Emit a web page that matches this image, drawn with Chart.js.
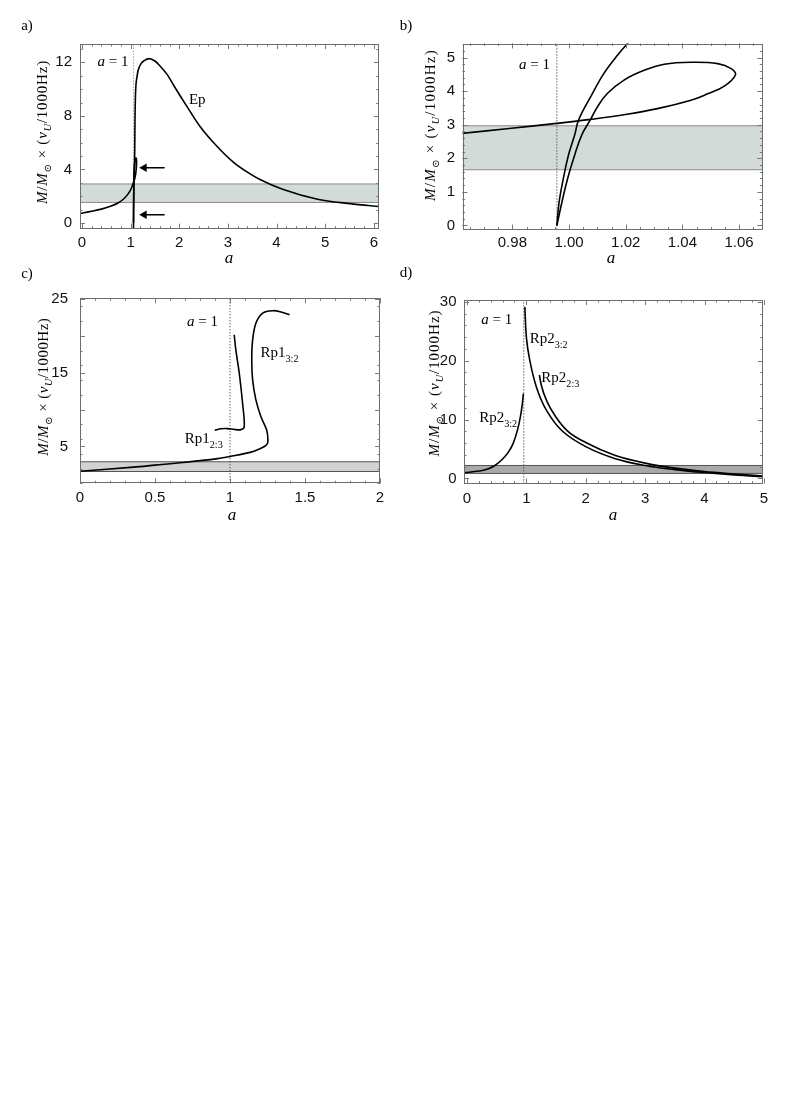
<!DOCTYPE html>
<html><head><meta charset="utf-8">
<script src="https://cdn.jsdelivr.net/npm/chart.js@4.4.1/dist/chart.umd.min.js"></script>
<style>
html,body{margin:0;padding:0;background:#fff;}
#page{position:relative;width:789px;height:1115px;background:#fff;overflow:hidden;}
.panel{position:absolute;}
.panel canvas{display:block;}
</style></head><body><div id="page">
<div class="panel" id="pa" style="left:0px;top:0px;width:395px;height:275px"><canvas id="ca"></canvas></div>
<div class="panel" id="pb" style="left:392px;top:0px;width:397px;height:275px"><canvas id="cb"></canvas></div>
<div class="panel" id="pc" style="left:0px;top:262px;width:395px;height:270px"><canvas id="cc"></canvas></div>
<div class="panel" id="pd" style="left:392px;top:262px;width:397px;height:270px"><canvas id="cd"></canvas></div>
</div>
<script>
// ---------------- DATA ----------------
// Panel a: Ep curve (left branch, small loop, upper branch), band, arrows
const aXTicks = [0, 1, 2, 3, 4, 5, 6];
const aYTicks = [0, 4, 8, 12];
const aEpLeftX = [-0.04, 0.2, 0.4, 0.6, 0.75, 0.85, 0.95, 1.02, 1.05, 1.06];
const aEpLeftY = [0.72, 0.88, 1.04, 1.27, 1.52, 1.78, 2.18, 2.62, 2.95, 3.04];
const aEpLoopX = [1.06, 1.083, 1.107, 1.123, 1.112, 1.086, 1.073, 1.066, 1.061, 1.06];
const aEpLoopY = [3.04, 3.29, 3.73, 4.48, 4.86, 4.57, 3.83, 2.74, 1.2, -0.5];
const aEpUpX = [1.06, 1.062, 1.066, 1.075, 1.085, 1.09, 1.1, 1.13, 1.19, 1.29, 1.38, 1.5, 1.6, 1.75, 1.9, 2.15, 2.42, 2.77, 3.11, 3.4, 3.66, 4.14, 4.82, 5.51, 6.15];
const aEpUpY = [0, 1.0, 2.45, 3.83, 5.4, 7.5, 9.5, 10.9, 11.75, 12.15, 12.28, 12.1, 11.75, 11.1, 10.2, 8.75, 7.25, 5.75, 4.55, 3.8, 3.25, 2.5, 1.8, 1.45, 1.22];
const aBand = [1.54, 2.92];
const aUnitLine = 1.06;
const aArrowY = [4.13, 0.62];
const aArrowX = [1.70, 1.28];

// Panel b: zoom near a = 1
const bXTicks = [0.98, 1.00, 1.02, 1.04, 1.06];
const bYTicks = [0, 1, 2, 3, 4, 5];
const bAX = [0.962, 0.978, 0.9956, 1.0076, 1.0194, 1.0312, 1.043, 1.0489, 1.0548, 1.0587, 1.0572, 1.0525, 1.043, 1.0336, 1.0265, 1.0194, 1.0135, 1.01, 1.0076, 1.0045, 1.002, 0.9995, 0.9975, 0.9957];
const bAY = [2.74, 2.88, 3.04, 3.16, 3.3, 3.48, 3.73, 3.92, 4.15, 4.48, 4.67, 4.82, 4.86, 4.8, 4.62, 4.33, 3.93, 3.53, 3.16, 2.7, 2.1, 1.4, 0.7, 0];
const bBX = [0.9957, 0.9965, 0.998, 0.9998, 1.002, 1.0034, 1.0076, 1.0123, 1.0171, 1.0215];
const bBY = [0, 0.7, 1.4, 2.1, 2.7, 3.15, 3.83, 4.53, 5.07, 5.5];
const bBand = [1.66, 2.97];
const bUnitLine = 0.9957;

// Panel c: Rp1 curves
const cXTicks = [0, 0.5, 1, 1.5, 2];
const cYTicks = [5, 15, 25];
const cRp32X = [0, 0.357, 0.5, 0.69, 0.917, 1.0, 1.14, 1.2, 1.24, 1.252, 1.245, 1.207, 1.173, 1.151, 1.145, 1.151, 1.173, 1.218, 1.285, 1.341, 1.397];
const cRp32Y = [1.64, 2.19, 2.46, 2.82, 3.35, 3.64, 4.23, 4.7, 5.14, 5.6, 7.19, 9.0, 11.28, 14.0, 16.74, 19.47, 21.74, 23.1, 23.42, 23.25, 22.88];
const cRp23X = [0.898, 0.94, 0.984, 1.03, 1.073, 1.095, 1.084, 1.062, 1.039, 1.028];
const cRp23Y = [7.19, 7.4, 7.42, 7.3, 7.28, 7.64, 10.83, 14.9, 18.1, 20.15];
const cBand = [1.6, 2.92];
const cUnitLine = 1.0;

// Panel d: Rp2 curves
const dXTicks = [0, 1, 2, 3, 4, 5];
const dYTicks = [0, 10, 20, 30];
const dL32X = [-0.05, 0.2, 0.35, 0.47, 0.6, 0.7, 0.78, 0.85, 0.9, 0.93, 0.95];
const dL32Y = [0.95, 1.25, 1.6, 2.2, 3.3, 4.5, 6.0, 8.2, 10.5, 12.5, 14.4];
const dR32X = [0.975, 1.0, 1.057, 1.17, 1.337, 1.6, 2.0, 2.5, 3.0, 3.5, 4.0, 4.5, 5.0];
const dR32Y = [29.1, 24.0, 20.1, 15.5, 11.6, 8.1, 5.4, 3.35, 2.2, 1.5, 1.0, 0.6, 0.28];
const dR23X = [1.22, 1.25, 1.35, 1.5, 1.7, 2.0, 2.5, 3.0, 3.5, 4.0, 4.5, 5.0];
const dR23Y = [17.6, 15.9, 13.0, 10.4, 8.0, 6.1, 3.9, 2.6, 1.75, 1.15, 0.75, 0.4];
const dBand = [0.85, 2.2];
const dUnitLine = 0.956;

// ---------------- RENDERING ----------------
const SERIF = '"Liberation Serif","Times New Roman","DejaVu Serif",serif';
const SANS = '"Liberation Sans",Arial,"DejaVu Sans",sans-serif';
function pts(xs, ys) { return xs.map((x, i) => ({ x: x, y: ys[i] })); }

function segFont(s, size) { return (s.it ? 'italic ' : '') + (s.sub ? size * 0.68 : size) + 'px ' + SERIF; }
function richWidth(ctx, segs, size, ls) {
  let w = 0;
  segs.forEach(s => { ctx.font = segFont(s, size); for (const ch of s.t) w += ctx.measureText(ch).width + ls; });
  return w;
}
function countChars(segs) { let n = 0; segs.forEach(s => { n += [...s.t].length; }); return n; }
function drawRich(ctx, segs, x, y, size, align, rot, ls) {
  ls = ls || 0;
  ctx.save();
  const total = ls ? richWidth(ctx, segs, size, ls) : segs.reduce((acc, s) => { ctx.font = segFont(s, size); return acc + ctx.measureText(s.t).width; }, 0);
  ctx.translate(x, y);
  if (rot) ctx.rotate(rot);
  let cx = align === 'center' ? -total / 2 : (align === 'right' ? -total : 0);
  ctx.textBaseline = 'alphabetic';
  ctx.textAlign = 'left';
  ctx.fillStyle = '#000';
  for (const s of segs) {
    ctx.font = segFont(s, size);
    const dy = s.sub ? size * 0.3 : 0;
    if (ls) {
      for (const ch of s.t) { ctx.fillText(ch, cx, size * 0.33 + dy); cx += ctx.measureText(ch).width + ls; }
    } else {
      ctx.fillText(s.t, cx, size * 0.33 + dy); cx += ctx.measureText(s.t).width;
    }
  }
  ctx.restore();
}

const yTitleSegs = [{t:'M',it:true},{t:'/'},{t:'M',it:true},{t:'\u2299',sub:true},{t:' \u00D7 ('},{t:'\u03BD',it:true},{t:'U',it:true,sub:true},{t:'/1000Hz)'}];
const aEq1 = [{t:'a',it:true},{t:' = 1'}];

const decoPlugin = {
  id: 'deco',
  afterDraw(chart, args, o) {
    const ctx = chart.ctx, a = chart.chartArea, xs = chart.scales.x, ys = chart.scales.y;
    ctx.save();
    ctx.strokeStyle = '#7a7a7a'; ctx.lineWidth = 1;
    const vals = (min, max, step) => { const r = []; const s = Math.ceil(min / step - 1e-9); for (let k = s; k * step <= max + 1e-9; k++) r.push(k * step); return r; };
    const xTick = (v, len) => { const p = Math.round(xs.getPixelForValue(v)) + 0.5; ctx.beginPath(); ctx.moveTo(p, a.bottom); ctx.lineTo(p, a.bottom - len); ctx.moveTo(p, a.top); ctx.lineTo(p, a.top + len); ctx.stroke(); };
    const yTick = (v, len) => { const p = Math.round(ys.getPixelForValue(v)) + 0.5; ctx.beginPath(); ctx.moveTo(a.left, p); ctx.lineTo(a.left + len, p); ctx.moveTo(a.right, p); ctx.lineTo(a.right - len, p); ctx.stroke(); };
    vals(xs.min, xs.max, o.xMinor).forEach(v => xTick(v, 2.5));
    vals(ys.min, ys.max, o.yMinor).forEach(v => yTick(v, 2.5));
    o.xMajor.forEach(v => xTick(v, 5));
    o.yMajor.forEach(v => yTick(v, 5));
    ctx.strokeStyle = '#6e6e6e';
    ctx.strokeRect(Math.round(a.left) + 0.5, Math.round(a.top) + 0.5, Math.round(a.right - a.left) - 1, Math.round(a.bottom - a.top) - 1);
    ctx.restore();
    (o.texts || []).forEach(t => drawRich(ctx, t.segs, xs.getPixelForValue(t.x), ys.getPixelForValue(t.y), t.size || 15, 'center'));
    const ox = o.cont.left, oy = o.cont.top;
    const ysz = 15;
    const nat = richWidth(ctx, yTitleSegs, ysz, 0);
    const ls = Math.max(0, (o.yTitle.len - nat) / countChars(yTitleSegs));
    drawRich(ctx, yTitleSegs, o.yTitle.x - ox, o.yTitle.y - oy, ysz, 'center', -Math.PI / 2, ls);
    drawRich(ctx, [{t:'a',it:true}], o.xTitle.x - ox, o.xTitle.y - oy, 17, 'center');
    drawRich(ctx, [{t:o.label.t}], o.label.x - ox, o.label.y - oy, 15, 'center');
  }
};

function line(xs, ys, extra) {
  return Object.assign({ data: pts(xs, ys), showLine: true, borderColor: '#000', borderWidth: 1.6, pointRadius: 0, tension: 0.4, fill: false, order: 1 }, extra || {});
}
function mono(xs, ys) { return line(xs, ys, { cubicInterpolationMode: 'monotone' }); }
function bandSets(band, xmin, xmax, fillColor, lineColor) {
  return [
    { data: pts([xmin, xmax], [band[0], band[0]]), showLine: true, borderColor: lineColor, borderWidth: 1, pointRadius: 0, fill: false, order: 10 },
    { data: pts([xmin, xmax], [band[1], band[1]]), showLine: true, borderColor: lineColor, borderWidth: 1, pointRadius: 0, fill: { value: band[0] }, backgroundColor: fillColor, order: 11 }
  ];
}
function unitLine(v, ymin, ymax, color) {
  return { data: pts([v, v], [ymin, ymax]), showLine: true, borderColor: color, borderWidth: 1, borderDash: [1.2, 1.8], pointRadius: 0, fill: false, order: 5 };
}
function arrow(xs, y) {
  return line(xs, [y, y], { tension: 0, pointRadius: [0, 5], pointStyle: 'triangle', rotation: 270, pointBackgroundColor: '#000', pointBorderColor: '#000', pointBorderWidth: 0 });
}

function makeChart(id, P) {
  const c = P.cont, b = P.box;
  const yw = b.L - c.left, padR = c.left + c.w - b.R, padT = b.T - c.top, xh = c.top + c.h - b.B;
  new Chart(document.getElementById(id), {
    type: 'scatter',
    data: { datasets: P.datasets },
    options: {
      responsive: true, maintainAspectRatio: false, animation: false,
      layout: { padding: { left: 0, right: padR, top: padT, bottom: 0 } },
      plugins: { legend: { display: false }, tooltip: { enabled: false }, deco: P.deco },
      scales: {
        x: {
          type: 'linear', min: P.xr[0], max: P.xr[1],
          afterBuildTicks: s => { s.ticks = P.xTicks.map(v => ({ value: v })); },
          afterFit: s => { s.height = xh; },
          grid: { display: false, drawTicks: false }, border: { display: false },
          ticks: { padding: P.xPad, font: { family: SANS, size: 15 }, color: '#111', maxRotation: 0, autoSkip: false, callback: P.xFmt || (v => String(v)) }
        },
        y: {
          type: 'linear', min: P.yr[0], max: P.yr[1],
          afterBuildTicks: s => { s.ticks = P.yTicks.map(v => ({ value: v })); },
          afterFit: s => { s.width = yw; },
          grid: { display: false, drawTicks: false }, border: { display: false },
          ticks: { padding: P.yPad, font: { family: SANS, size: 15 }, color: '#111', autoSkip: false, callback: v => String(v) }
        }
      }
    },
    plugins: [decoPlugin]
  });
}

// Panel a
(function () {
  const cont = { left: 0, top: 0, w: 395, h: 275 };
  const xr = [-0.04, 6.1], yr = [-0.42, 13.37];
  makeChart('ca', {
    cont: cont, box: { L: 80, R: 378.7, T: 44, B: 228.7 }, xr: xr, yr: yr,
    xTicks: aXTicks, yTicks: aYTicks, xPad: 5, yPad: 8,
    datasets: [
      mono(aEpLeftX, aEpLeftY), line(aEpLoopX, aEpLoopY, { tension: 0.3 }), mono(aEpUpX, aEpUpY),
      arrow(aArrowX, aArrowY[0]), arrow(aArrowX, aArrowY[1]),
      unitLine(aUnitLine, yr[0], yr[1], '#888'),
      ...bandSets(aBand, xr[0], xr[1], '#d3dbd9', '#8a8a8a')
    ],
    deco: {
      cont: cont, xMinor: 0.2, yMinor: 1, xMajor: aXTicks, yMajor: aYTicks,
      texts: [ { segs: aEq1, x: 0.64, y: 12.1 }, { segs: [{t:'Ep'}], x: 2.37, y: 9.25 } ],
      yTitle: { x: 42, y: 132, len: 144 }, xTitle: { x: 229, y: 257 }, label: { t: 'a)', x: 27, y: 25 }
    }
  });
})();

// Panel b
(function () {
  const cont = { left: 392, top: 0, w: 397, h: 275 };
  const xr = [0.9624, 1.0682], yr = [-0.12, 5.42];
  makeChart('cb', {
    cont: cont, box: { L: 462.5, R: 762.3, T: 43.5, B: 229.5 }, xr: xr, yr: yr,
    xTicks: bXTicks, yTicks: bYTicks, xPad: 4, yPad: 7.5, xFmt: v => v.toFixed(2),
    datasets: [
      line(bAX, bAY), line(bBX, bBY),
      unitLine(bUnitLine, yr[0], yr[1], '#444'),
      ...bandSets(bBand, xr[0], xr[1], '#d3dbd9', '#8a8a8a')
    ],
    deco: {
      cont: cont, xMinor: 0.005, yMinor: 0.2, xMajor: bXTicks, yMajor: bYTicks,
      texts: [ { segs: aEq1, x: 0.9878, y: 4.82 } ],
      yTitle: { x: 430, y: 125, len: 152 }, xTitle: { x: 611, y: 257 }, label: { t: 'b)', x: 406, y: 25 }
    }
  });
})();

// Panel c
(function () {
  const cont = { left: 0, top: 262, w: 395, h: 270 };
  const xr = [0, 2], yr = [0, 25.1];
  makeChart('cc', {
    cont: cont, box: { L: 80, R: 380, T: 298.3, B: 483.3 }, xr: xr, yr: yr,
    xTicks: cXTicks, yTicks: cYTicks, xPad: 6, yPad: 12,
    datasets: [
      line(cRp32X, cRp32Y, { tension: 0.35 }), line(cRp23X, cRp23Y, { tension: 0.35 }),
      unitLine(cUnitLine, yr[0], yr[1], '#444'),
      ...bandSets(cBand, xr[0], xr[1], '#d2d2d2', '#555')
    ],
    deco: {
      cont: cont, xMinor: 0.1, yMinor: 2, xMajor: cXTicks, yMajor: [5, 10, 15, 20, 25],
      texts: [
        { segs: aEq1, x: 0.816, y: 22.0 },
        { segs: [{t:'Rp1'},{t:'2:3',sub:true}], x: 0.825, y: 6.1 },
        { segs: [{t:'Rp1'},{t:'3:2',sub:true}], x: 1.33, y: 17.76 }
      ],
      yTitle: { x: 43, y: 386.7, len: 138 }, xTitle: { x: 232, y: 514 }, label: { t: 'c)', x: 27, y: 273 }
    }
  });
})();

// Panel d
(function () {
  const cont = { left: 392, top: 262, w: 397, h: 270 };
  const xr = [-0.05, 4.98], yr = [-0.86, 30.3];
  makeChart('cd', {
    cont: cont, box: { L: 464, R: 762.7, T: 300, B: 483.5 }, xr: xr, yr: yr,
    xTicks: dXTicks, yTicks: dYTicks, xPad: 6, yPad: 7.5,
    datasets: [
      mono(dL32X, dL32Y), line(dR32X, dR32Y), mono(dR23X, dR23Y),
      unitLine(dUnitLine, yr[0], yr[1], '#444'),
      ...bandSets(dBand, xr[0], xr[1], '#a9a9a9', '#555')
    ],
    deco: {
      cont: cont, xMinor: 0.2, yMinor: 2, xMajor: dXTicks, yMajor: dYTicks,
      texts: [
        { segs: aEq1, x: 0.503, y: 27.06 },
        { segs: [{t:'Rp2'},{t:'3:2',sub:true}], x: 1.376, y: 23.83 },
        { segs: [{t:'Rp2'},{t:'2:3',sub:true}], x: 1.572, y: 17.2 },
        { segs: [{t:'Rp2'},{t:'3:2',sub:true}], x: 0.525, y: 10.4 }
      ],
      yTitle: { x: 434, y: 383, len: 147 }, xTitle: { x: 613, y: 514 }, label: { t: 'd)', x: 406, y: 272 }
    }
  });
})();
</script>
</body></html>
